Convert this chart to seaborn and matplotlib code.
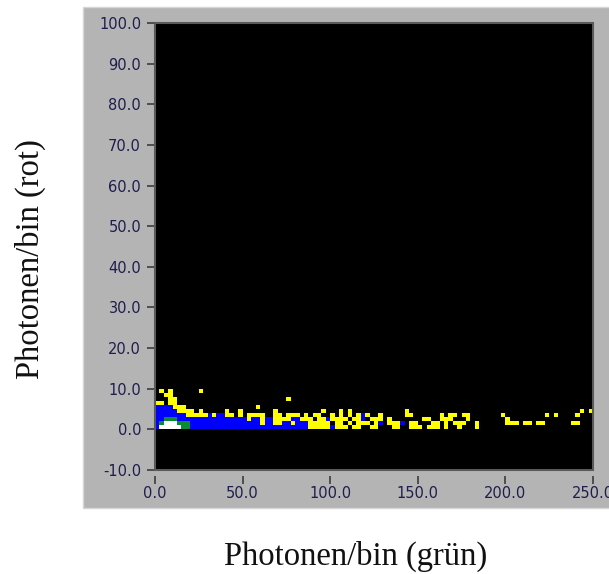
import numpy as np
import pandas as pd
import matplotlib
matplotlib.use("Agg")
import matplotlib.pyplot as plt
from matplotlib.colors import ListedColormap
from matplotlib.patches import Rectangle
import seaborn as sns

# Coincidence histogram: photons per bin in the green channel (x) vs red channel (y)
x_bin_width = 2.5
y_bin_height = 1.0
x_range = (0.0, 250.0)
y_range = (-10.0, 100.0)

# Occupied rows keyed by the lower edge of the y bin; one character per x bin
# '.' empty, 'y' low, 'b' medium, 'g' high, 'w' highest occupancy
rows = {
    9: ".y.y......" "y........." ".........." ".........." ".........."
       ".........." ".........." ".........." ".........." "..........",
    8: "..yy......" ".........." ".........." ".........." ".........."
       ".........." ".........." ".........." ".........." "..........",
    7: "...yy....." ".........." ".........." "y........." ".........."
       ".........." ".........." ".........." ".........." "..........",
    6: "yy.yy....." ".........." ".........." ".........." ".........."
       ".........." ".........." ".........." ".........." "..........",
    5: "bbbbyyy..." ".........." "...y......" ".........." ".........."
       ".........." ".........." ".........." ".........." "..........",
    4: "bbbbbyyyy." "y.....y..y" ".......y.." "........y." "..y.y....."
       ".......y.." ".........." ".........." ".........." ".......y.y",
    3: "bbbbbbbyyy" "yybybbyy.y" ".yyyy..yy." "yyy.y.yy.." "y.y.y.yby."
       ".y.....yy." ".....y.yy." "yy.......y" ".........y" ".y....y...",
    2: "bbgggbbbbb" "bbbbbbbbbb" "bybbybbyyy" "ybbyyy.yyb" "yyyy.yyb.y"
       "yy.y......" ".yy..yyy.." ".y........" "y........." "..........",
    1: "bgwwwgggbb" "bbbbbbbbbb" "bbbbybbyyb" "bybbbyyyyy" ".yy.y.yyy."
       "yb.yyyb.yy" "...yy.y.yy" "y..y......" "yyy.yy.yy." ".....yy...",
    0: "bwwwwwggbb" "bbbbbbbbbb" "bbbbbbbbbb" "bbbbbyyyyy" "byyy.yy..y"
       "y...yy..yy" "y.yyy.y..y" "...y......" ".........." "..........",
}
level_codes = {".": 0, "y": 1, "b": 2, "g": 3, "w": 4}
level_colors = ["#000000", "#ffff00", "#0000ff", "#0b8a34", "#ffffff"]

x_ticks = [0, 50, 100, 150, 200, 250]
y_ticks = [-10, 0, 10, 20, 30, 40, 50, 60, 70, 80, 90, 100]

x_label = "Photonen/bin (grün)"
y_label = "Photonen/bin (rot)"

# Build the full grid, top row first (as heatmap draws it)
n_cols = int(round((x_range[1] - x_range[0]) / x_bin_width))
y_lower_edges = np.arange(y_range[1] - y_bin_height, y_range[0] - 0.5 * y_bin_height, -y_bin_height)
grid = np.zeros((len(y_lower_edges), n_cols), dtype=int)
for r, y0 in enumerate(y_lower_edges):
    key = int(round(y0))
    if key in rows:
        grid[r] = [level_codes[c] for c in rows[key]]
x_lower_edges = x_range[0] + x_bin_width * np.arange(n_cols)
df = pd.DataFrame(grid, index=y_lower_edges, columns=x_lower_edges)

W, H = 609, 574
fig = plt.figure(figsize=(W / 100, H / 100), dpi=100, facecolor="white")

# Grey graph panel behind the plot area
bg = fig.add_axes([0, 0, 1, 1], zorder=0)
bg.set_xlim(0, W)
bg.set_ylim(H, 0)
bg.axis("off")
bg.add_patch(Rectangle((83, 7), W, 508 - 7, facecolor="#b4b4b4",
                       edgecolor="#d6d6d6", lw=1.0))

ax = fig.add_axes([155 / W, 1 - 470 / H, (593 - 155) / W, (470 - 23) / H], zorder=2)
sns.heatmap(df, ax=ax, cmap=ListedColormap(level_colors), vmin=-0.5, vmax=4.5,
            cbar=False, xticklabels=False, yticklabels=False)
ax.set_facecolor("black")


def x_pos(v):
    return (v - x_range[0]) / x_bin_width


def y_pos(v):
    return (y_range[1] - v) / y_bin_height


ax.set_xticks([x_pos(v) for v in x_ticks])
ax.set_xticklabels([f"{v:.1f}" for v in x_ticks])
ax.set_yticks([y_pos(v) for v in y_ticks])
ax.set_yticklabels([f"{v:.1f}" for v in y_ticks], rotation=0)
ax.set_xlabel("")
ax.set_ylabel("")

tick_color = "#3c3c3c"
label_color = "#1e1e4e"
ax.tick_params(axis="both", direction="out", length=6, width=1.2,
               color=tick_color, labelcolor=label_color, labelsize=10.5)
ax.tick_params(axis="y", pad=4)
ax.tick_params(axis="x", pad=1.5)
for lab in ax.get_xticklabels() + ax.get_yticklabels():
    lab.set_family("DejaVu Sans")

for side, spine in ax.spines.items():
    spine.set_visible(False)
ax.spines["bottom"].set_position(("outward", 4))
ax.spines["bottom"].set_visible(False)

frame = Rectangle((0, 0), 1, 1, transform=ax.transAxes, fill=False,
                  edgecolor="#5a5a5a", lw=1.5, clip_on=False, zorder=5)
ax.add_patch(frame)

fig.text(30 / W, 1 - 259 / H, y_label, rotation=90, ha="center", va="center",
         family="Liberation Serif", fontsize=23.5, color="#111111")
fig.text(356 / W, 1 - 556 / H, x_label, ha="center", va="center",
         family="Liberation Serif", fontsize=23.5, color="#111111")

fig.savefig("out.png", dpi=100, facecolor="white")
